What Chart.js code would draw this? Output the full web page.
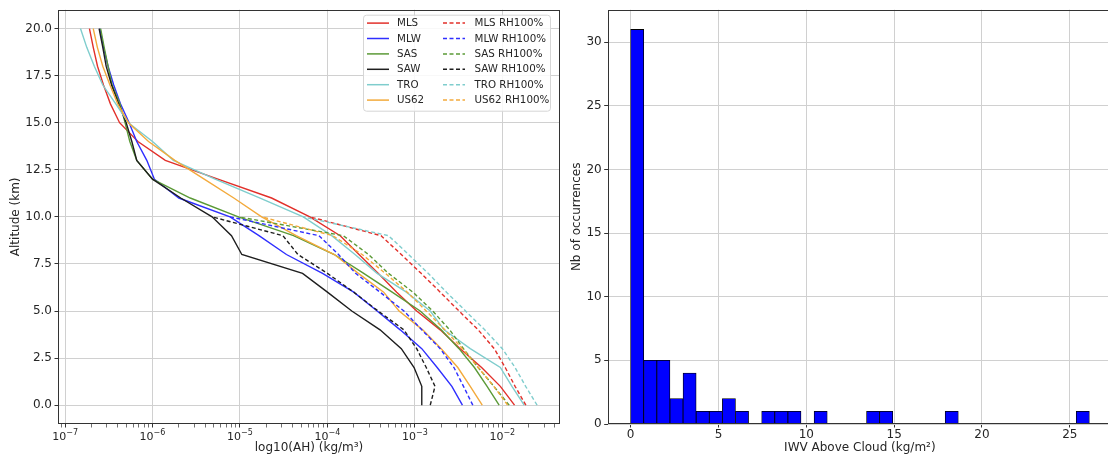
<!DOCTYPE html>
<html lang="en">
<head>
<meta charset="UTF-8">
<title>Humidity profiles and IWV above cloud</title>
<script src="https://cdn.jsdelivr.net/npm/chart.js"></script>
<style>
  html, body { margin: 0; padding: 0; background: #fff; overflow: hidden; }
  #wrap { position: relative; width: 1108px; height: 457px; overflow: hidden; }
  .panel { position: absolute; top: 0; height: 457px; }
  #left { left: 0; width: 561px; }
  #right { left: 561px; width: 551px; }
</style>
</head>
<body>
<div id="wrap">
  <div class="panel" id="left"><canvas id="profileChart"></canvas></div>
  <div class="panel" id="right"><canvas id="histChart"></canvas></div>
</div>

<script>
  // altitude levels (km)
  const altitudes = [0, 1, 2, 3, 4, 5, 6, 7, 8, 9, 10, 11, 12, 13, 14, 15, 16, 17, 18, 19, 20];
  const altitudesRH = [0, 1, 2, 3, 4, 5, 6, 7, 8, 9, 10];

  // absolute humidity (kg/m3), one value per altitude
  const mlsAH  = [1.38e-2, 9.5e-3, 5.8e-3, 3.3e-3, 1.95e-3, 1.05e-3, 6.2e-4, 3.8e-4, 2.3e-4, 1.4e-4, 6.3e-5, 2.3e-5, 5.6e-6, 1.4e-6, 6.8e-7, 4.2e-7, 3.3e-7, 2.75e-7, 2.35e-7, 2.1e-7, 1.9e-7];
  const mlwAH  = [3.5e-3, 2.65e-3, 1.8e-3, 1.2e-3, 6.8e-4, 3.7e-4, 2.0e-4, 8.8e-5, 3.4e-5, 1.65e-5, 7.7e-6, 2.0e-6, 1.05e-6, 8.6e-7, 6.6e-7, 5.4e-7, 4.3e-7, 3.6e-7, 3.1e-7, 2.75e-7, 2.5e-7];
  const sasAH  = [9.2e-3, 6.7e-3, 4.8e-3, 3.2e-3, 2.0e-3, 1.15e-3, 5.5e-4, 2.6e-4, 1.2e-4, 4.1e-5, 9.6e-6, 2.7e-6, 1.0e-6, 6.6e-7, 5.5e-7, 4.85e-7, 4.25e-7, 3.45e-7, 3.1e-7, 2.8e-7, 2.55e-7];
  const sawAH  = [1.2e-3, 1.2e-3, 9.8e-4, 7.0e-4, 4.0e-4, 1.9e-4, 1.0e-4, 5.2e-5, 1.05e-5, 8.0e-6, 4.8e-6, 2.1e-6, 1.0e-6, 6.6e-7, 5.8e-7, 5.0e-7, 4.1e-7, 3.4e-7, 2.95e-7, 2.7e-7, 2.45e-7];
  const troAH  = [1.78e-2, 1.29e-2, 9.5e-3, 4.3e-3, 2.16e-3, 1.5e-3, 8.0e-4, 3.7e-4, 2.07e-4, 1.12e-4, 5.3e-5, 1.7e-5, 5.2e-6, 1.73e-6, 1.0e-6, 5.3e-7, 3.8e-7, 2.7e-7, 2.16e-7, 1.77e-7, 1.5e-7];
  const us62AH = [5.9e-3, 4.3e-3, 3.1e-3, 2.0e-3, 1.23e-3, 6.6e-4, 4.4e-4, 2.26e-4, 1.2e-4, 4.4e-5, 1.77e-5, 8.5e-6, 3.9e-6, 1.8e-6, 9.0e-7, 5.3e-7, 4.0e-7, 3.26e-7, 2.7e-7, 2.34e-7, 2.1e-7];

  // saturated (RH 100%) profiles below 10 km
  const mlsRH  = [1.86e-2, 1.4e-2, 1.08e-2, 8.1e-3, 5.3e-3, 3.2e-3, 1.95e-3, 1.18e-3, 7.0e-4, 4.1e-4, 6.3e-5];
  const mlwRH  = [4.6e-3, 3.6e-3, 2.8e-3, 1.95e-3, 1.2e-3, 7.5e-4, 4.0e-4, 2.1e-4, 1.34e-4, 8.0e-5, 7.7e-6];
  const sasRH  = [1.2e-2, 8.0e-3, 5.3e-3, 3.6e-3, 2.5e-3, 1.6e-3, 9.5e-4, 5.0e-4, 2.95e-4, 1.52e-4, 9.6e-6];
  const sawRH  = [1.5e-3, 1.7e-3, 1.35e-3, 1.05e-3, 7.5e-4, 3.8e-4, 2.0e-4, 1.0e-4, 4.6e-5, 3.1e-5, 4.8e-6];
  const troRH  = [2.5e-2, 1.85e-2, 1.4e-2, 1.0e-2, 6.3e-3, 3.8e-3, 2.3e-3, 1.42e-3, 8.5e-4, 5.0e-4, 5.3e-5];
  const us62RH = [1.15e-2, 8.0e-3, 5.3e-3, 3.5e-3, 2.2e-3, 1.35e-3, 8.2e-4, 4.6e-4, 2.5e-4, 1.15e-4, 1.77e-5];

  const profileNames = ["MLS", "MLW", "SAS", "SAW", "TRO", "US62"];
  const profileColors = ["#e2302a", "#2f2fff", "#5b9a37", "#1e1e1e", "#7fcdcd", "#f3aa3c"];
  const solidProfiles = [mlsAH, mlwAH, sasAH, sawAH, troAH, us62AH];
  const rhProfiles = [mlsRH, mlwRH, sasRH, sawRH, troRH, us62RH];

  // x axis (log) ticks
  const ahMin = 8.3e-8, ahMax = 4.57e-2;
  const ahMajorTicks = [1e-7, 1e-6, 1e-5, 1e-4, 1e-3, 1e-2];
  const ahTickExponents = ["−7", "−6", "−5", "−4", "−3", "−2"];
  const altTicks = [0, 2.5, 5, 7.5, 10, 12.5, 15, 17.5, 20];

  // histogram of IWV above cloud
  const iwvBinWidth = 0.746;
  const iwvCounts = [31, 5, 5, 2, 4, 1, 1, 2, 1, 0, 1, 1, 1, 0, 1, 0, 0, 0, 1, 1, 0, 0, 0, 0, 1, 0, 0, 0, 0, 0, 0, 0, 0, 0, 1];
  const iwvTicks = [0, 5, 10, 15, 20, 25];
  const countTicks = [0, 5, 10, 15, 20, 25, 30];

  const FONT = '"DejaVu Sans", sans-serif';
  Chart.defaults.font.family = FONT;
  Chart.defaults.font.size = 12;
  Chart.defaults.color = "#262626";

  const ahTicks = [];
  [1e-8].concat(ahMajorTicks).forEach(d => {
    for (let k = 1; k <= 9; k++) {
      const v = d * k;
      if (v >= ahMin && v <= ahMax) ahTicks.push(v);
    }
  });
  function isMajor(v) {
    return ahMajorTicks.some(t => Math.abs(v / t - 1) < 1e-6);
  }

  const framePlugin = {
    id: "frame",
    afterDatasetsDraw(chart) {
      const { ctx, chartArea: a } = chart;
      ctx.save();
      ctx.strokeStyle = "#333";
      ctx.lineWidth = 1;
      ctx.strokeRect(Math.round(a.left) + 0.5, Math.round(a.top) + 0.5,
        Math.round(a.right - a.left) - 1, Math.round(a.bottom - a.top) - 1);
      ctx.restore();
    }
  };

  // "10" with a raised exponent under each decade
  const powerLabelPlugin = {
    id: "powerLabels",
    afterDraw(chart) {
      const { ctx } = chart;
      const scale = chart.scales.x;
      ctx.save();
      ctx.fillStyle = "#262626";
      ctx.textBaseline = "alphabetic";
      ahMajorTicks.forEach((v, i) => {
        const px = scale.getPixelForValue(v);
        ctx.font = "11px " + FONT;
        const wb = ctx.measureText("10").width;
        ctx.font = "8px " + FONT;
        const we = ctx.measureText(ahTickExponents[i]).width;
        const x = px - (wb + we) / 2;
        ctx.font = "11px " + FONT;
        ctx.fillText("10", x, scale.top + 16);
        ctx.font = "8px " + FONT;
        ctx.fillText(ahTickExponents[i], x + wb, scale.top + 11);
      });
      ctx.restore();
    }
  };

  const legendPlugin = {
    id: "profileLegend",
    afterDraw(chart) {
      const { ctx, chartArea: a } = chart;
      const w = 187, h = 96;
      const x0 = a.right - 10 - w, y0 = a.top + 5;
      ctx.save();
      ctx.beginPath();
      ctx.roundRect(x0 + 0.5, y0 + 0.5, w, h, 3);
      ctx.fillStyle = "rgba(255,255,255,0.85)";
      ctx.fill();
      ctx.strokeStyle = "#d6d6d6";
      ctx.lineWidth = 1;
      ctx.stroke();
      ctx.font = "10.3px " + FONT;
      ctx.textBaseline = "middle";
      chart.data.datasets.forEach((ds, i) => {
        const col = i < 6 ? 0 : 1;
        const row = i % 6;
        const y = y0 + 8.4 + row * 15.4;
        const lx = x0 + (col === 0 ? 4 : 80);
        ctx.beginPath();
        ctx.setLineDash(ds.borderDash || []);
        ctx.strokeStyle = ds.borderColor;
        ctx.lineWidth = 1.5;
        ctx.moveTo(lx, y);
        ctx.lineTo(lx + 22, y);
        ctx.stroke();
        ctx.setLineDash([]);
        ctx.fillStyle = "#262626";
        ctx.fillText(ds.label, x0 + (col === 0 ? 34 : 111.5), y + 0.5);
      });
      ctx.restore();
    }
  };

  const datasets = [];
  profileNames.forEach((name, i) => {
    datasets.push({
      label: name,
      data: altitudes.map((alt, k) => ({ x: solidProfiles[i][k], y: alt })),
      borderColor: profileColors[i],
      borderWidth: 1.4,
      borderDash: [],
      pointRadius: 0,
      order: -i
    });
  });
  profileNames.forEach((name, i) => {
    datasets.push({
      label: name + " RH100%",
      data: altitudesRH.map((alt, k) => ({ x: rhProfiles[i][k], y: alt })),
      borderColor: profileColors[i],
      borderWidth: 1.4,
      borderDash: [4, 2.5],
      pointRadius: 0,
      order: -(i + 6)
    });
  });

  new Chart(document.getElementById("profileChart"), {
    type: "line",
    data: { datasets },
    options: {
      responsive: true,
      maintainAspectRatio: false,
      animation: false,
      devicePixelRatio: 1,
      layout: { padding: { top: 8.5, right: 1, bottom: 0, left: 0 } },
      plugins: { legend: { display: false }, tooltip: { enabled: false } },
      scales: {
        x: {
          type: "logarithmic",
          min: ahMin,
          max: ahMax,
          afterBuildTicks(scale) { scale.ticks = ahTicks.map(v => ({ value: v })); },
          afterFit(scale) { scale.height = 33; },
          border: { display: false },
          grid: {
            color: c => (c.tick && isMajor(c.tick.value)) ? "#d0d0d0" : "rgba(0,0,0,0)",
            tickColor: "#333",
            tickWidth: c => (c.tick && isMajor(c.tick.value)) ? 1 : 0.7,
            tickLength: 3.5
          },
          ticks: { autoSkip: false, maxRotation: 0, padding: 2, callback: () => "" },
          title: { display: true, text: "log10(AH) (kg/m³)", padding: { top: 0, bottom: 2 } }
        },
        y: {
          type: "linear",
          min: -1,
          max: 21,
          afterBuildTicks(scale) { scale.ticks = altTicks.map(v => ({ value: v })); },
          afterFit(scale) { scale.width = 58; },
          border: { display: false },
          grid: { color: "#d0d0d0", tickColor: "#333", tickLength: 3.5 },
          ticks: { padding: 2.5, callback: v => v.toFixed(1) },
          title: { display: true, text: "Altitude (km)", padding: { top: 9, bottom: 0 } }
        }
      }
    },
    plugins: [framePlugin, powerLabelPlugin, legendPlugin]
  });

  new Chart(document.getElementById("histChart"), {
    type: "bar",
    data: {
      datasets: [{
        label: "IWV Above Cloud",
        data: iwvCounts.map((n, i) => ({ x: (i + 0.5) * iwvBinWidth, y: n })),
        backgroundColor: "#0000ff",
        borderColor: "#000",
        borderWidth: 0.8,
        borderSkipped: false,
        barPercentage: 1,
        categoryPercentage: 1
      }]
    },
    options: {
      responsive: true,
      maintainAspectRatio: false,
      animation: false,
      devicePixelRatio: 1,
      layout: { padding: { top: 8.5, right: 0, bottom: 0, left: 0 } },
      plugins: { legend: { display: false }, tooltip: { enabled: false } },
      scales: {
        x: {
          type: "linear",
          min: -1.305,
          max: 27.4,
          offset: false,
          z: 1,
          afterBuildTicks(scale) { scale.ticks = iwvTicks.map(v => ({ value: v })); },
          afterFit(scale) { scale.height = 33; },
          border: { display: false },
          grid: { offset: false, color: "#d0d0d0", tickColor: "#333", tickLength: 3.5 },
          ticks: { autoSkip: false, maxRotation: 0, padding: 0 },
          title: { display: true, text: "IWV Above Cloud (kg/m²)", padding: { top: 0, bottom: 2 } }
        },
        y: {
          type: "linear",
          min: 0,
          max: 32.55,
          z: 1,
          afterBuildTicks(scale) { scale.ticks = countTicks.map(v => ({ value: v })); },
          afterFit(scale) { scale.width = 46.7; },
          border: { display: false },
          grid: { color: "#d0d0d0", tickColor: "#333", tickLength: 3.5 },
          ticks: { padding: 2.5 },
          title: { display: true, text: "Nb of occurrences", padding: { top: 9, bottom: 0 } }
        }
      }
    },
    plugins: [framePlugin]
  });
</script>
</body>
</html>
